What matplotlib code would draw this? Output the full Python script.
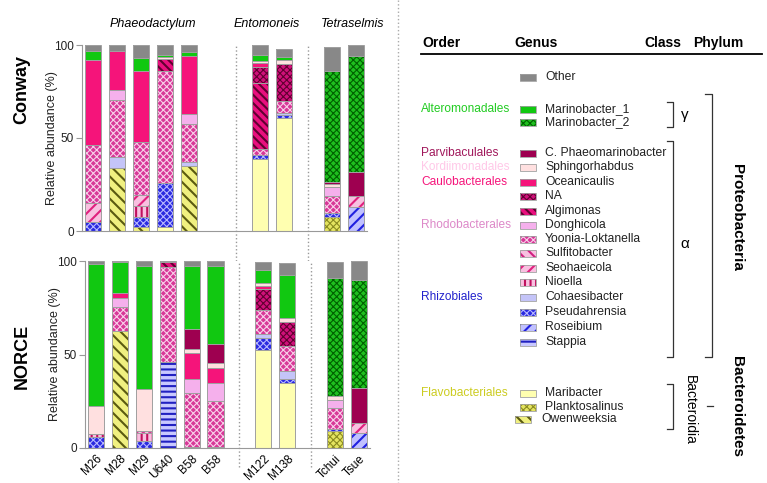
import numpy as np
import matplotlib
matplotlib.use('Agg')
import matplotlib.pyplot as plt
from matplotlib.patches import Rectangle

plt.rcParams['font.family'] = ['Liberation Sans', 'DejaVu Sans']
plt.rcParams['hatch.linewidth'] = 1.4

# samples (one empty slot in the Conway panel for the 2nd B58)
samples = ['M26', 'M28', 'M29', 'U640', 'B58', 'B58', 'M122', 'M138', 'Tchui', 'Tsue']
xpos = [0, 1, 2, 3, 4, 5, 7, 8, 10, 11]
groups = ['Phaeodactylum', 'Entomoneis', 'Tetraselmis']

# legend order, top to bottom (bars stack in reverse)
genera = ['Other', 'Marinobacter_1', 'Marinobacter_2', 'C. Phaeomarinobacter', 'Sphingorhabdus',
          'Oceanicaulis', 'NA', 'Algimonas', 'Donghicola', 'Yoonia-Loktanella', 'Sulfitobacter',
          'Seohaeicola', 'Nioella', 'Cohaesibacter', 'Pseudahrensia', 'Roseibium', 'Stappia',
          'Maribacter', 'Planktosalinus', 'Owenweeksia']

# Conway medium (%)
c_other = [3, 3, 7.2, 5.5, 4, 0, 5.4, 4.3, 12.9, 5.9]
c_marino1 = [5, 0, 6.6, 1, 2, 0, 2.8, 1.7, 0, 0]
c_marino2 = [0, 0, 0, 0, 0, 0, 0, 0, 60, 62.2]
c_phaeo = [0, 0, 0, 0, 0, 0, 0, 0, 0.9, 13.1]
c_sphingo = [0, 0, 0, 1.2, 0, 0, 1.1, 2.4, 1.5, 0]
c_oceani = [46, 21, 38.5, 0, 31.3, 0, 2.5, 0, 0, 0]
c_na = [0, 0, 0, 0, 0, 0, 8.6, 19.6, 0, 0]
c_algi = [0, 0, 0, 6.1, 0, 0, 35.5, 0, 0, 0]
c_dongh = [0, 5.5, 0, 0, 5.2, 0, 0, 0, 5, 0]
c_yoonia = [31, 30.5, 28.3, 60.2, 20.2, 0, 3.2, 6.4, 8.9, 0]
c_sulfito = [0, 0, 0, 0, 0, 0, 0, 0, 0, 0]
c_seoh = [10, 0, 6, 0, 0, 0, 0, 0, 0, 6.1]
c_nioella = [0, 0, 5.7, 0, 0, 0, 0, 0, 0, 0]
c_cohaes = [0, 6, 0, 0, 2.3, 0, 0, 1.4, 0, 0]
c_pseud = [5, 0, 5.4, 23.7, 0, 0, 2.2, 1.2, 2.2, 0]
c_roseib = [0, 0, 0, 0, 0, 0, 0, 0, 0, 12.7]
c_stappia = [0, 0, 0, 0, 0, 0, 0, 0, 0, 0]
c_marib = [0, 0, 0, 2.3, 0, 0, 38.5, 61, 0, 0]
c_plankt = [0, 0, 0, 0, 0, 0, 0, 0, 7.7, 0]
c_owen = [0, 34, 2.3, 0, 35, 0, 0, 0, 0, 0]

# NORCE medium (%)
n_other = [1.8, 0.7, 2.5, 0.7, 2.7, 2.7, 4.1, 6.3, 8.9, 10.2]
n_marino1 = [75.7, 16.6, 65.9, 0, 33.8, 41.7, 6.8, 22.8, 0, 0]
n_marino2 = [0, 0, 0, 0, 0, 0, 0, 0, 62.9, 57.5]
n_phaeo = [0, 0, 0, 0, 10.6, 10.3, 0, 0, 0, 18.8]
n_sphingo = [15, 0, 22.5, 0, 2.3, 2.7, 1.6, 2.1, 2.1, 0]
n_oceani = [0, 2.5, 0, 0, 13.7, 7.8, 2, 0, 0, 0]
n_na = [0, 0, 0, 0, 0, 0, 11, 12.9, 0, 0]
n_algi = [0, 0, 0, 2.3, 0, 0, 0, 0, 0, 0]
n_dongh = [0, 5, 0, 0, 7.7, 9.5, 0, 0, 4.1, 0]
n_yoonia = [0, 12.6, 1.3, 51.2, 28.7, 24.8, 13, 13.3, 11.6, 0]
n_sulfito = [0, 0, 0, 0, 0, 0, 0, 0, 0, 0]
n_seoh = [0, 0, 0, 0, 0, 0, 0, 0, 0, 5.3]
n_nioella = [1.8, 0, 4.1, 0, 0, 0, 0, 0, 0, 0]
n_cohaes = [0, 0, 0, 0, 0, 0, 2.2, 4.5, 0, 0]
n_pseud = [5.7, 0, 3.7, 0, 0.5, 0.5, 6.2, 2, 0.9, 0]
n_roseib = [0, 0, 0, 0, 0, 0, 0, 0, 0, 8.2]
n_stappia = [0, 0, 0, 45.8, 0, 0, 0, 0, 0, 0]
n_marib = [0, 0, 0, 0, 0, 0, 52.4, 34.9, 0, 0]
n_plankt = [0, 0, 0, 0, 0, 0, 0, 0, 9.1, 0]
n_owen = [0, 62.6, 0, 0, 0, 0, 0, 0, 0, 0]

conway = [c_other, c_marino1, c_marino2, c_phaeo, c_sphingo, c_oceani, c_na, c_algi, c_dongh,
          c_yoonia, c_sulfito, c_seoh, c_nioella, c_cohaes, c_pseud, c_roseib, c_stappia,
          c_marib, c_plankt, c_owen]
norce = [n_other, n_marino1, n_marino2, n_phaeo, n_sphingo, n_oceani, n_na, n_algi, n_dongh,
         n_yoonia, n_sulfito, n_seoh, n_nioella, n_cohaes, n_pseud, n_roseib, n_stappia,
         n_marib, n_plankt, n_owen]

# (face, hatch, hatch colour) per genus, same order as genera
styles = [
    ('#888888', None, '#888888'),
    ('#11c811', None, '#11c811'),
    ('#1fbf1f', 'xxxxx', '#006000'),
    ('#9e0050', None, '#9e0050'),
    ('#ffe0e0', None, '#ffe0e0'),
    ('#f5147a', None, '#f5147a'),
    ('#d0107a', 'xxxxx', '#600030'),
    ('#e8107e', '\\\\\\\\', '#600030'),
    ('#f5b0ec', None, '#f5b0ec'),
    ('#d83898', 'xxxxx', '#f8d0ea'),
    ('#f8c0e0', '\\\\\\', '#d02080'),
    ('#f8c0e0', '///', '#e0207e'),
    ('#f8c0e0', '|||', '#c0105e'),
    ('#c4c4f8', None, '#c4c4f8'),
    ('#2a2ae0', 'xxxxx', '#b8b8ff'),
    ('#c0c0ff', '///', '#2020e0'),
    ('#c8c8ff', '---', '#2020c0'),
    ('#ffffb0', None, '#ffffb0'),
    ('#e4e460', 'xxxxx', '#8a8a20'),
    ('#f0f080', '\\\\\\', '#5a5a10'),
]


def set_hlw(patch, hatch):
    # thinner lines for checker patterns, if this matplotlib supports it
    if hatch and hasattr(patch, 'set_hatch_linewidth'):
        patch.set_hatch_linewidth(0.8 if 'x' in hatch else 1.5)


orders = ['Alteromonadales', 'Parvibaculales', 'Kordiimonadales', 'Caulobacterales',
          'Rhodobacterales', 'Rhizobiales', 'Flavobacteriales']
order_colors = ['#22cc22', '#a0165a', '#ffc8e8', '#f5147a', '#dd88c8', '#2222cc', '#cccc20']
order_rows = [1, 3, 4, 5, 8, 13, 17]

fig = plt.figure(figsize=(7.67, 4.83), dpi=100)

# full-figure overlay in pixel units for the legend side
lax = fig.add_axes([0, 0, 1, 1])
lax.set_xlim(0, 767)
lax.set_ylim(483, 0)
lax.axis('off')
lax.patch.set_visible(False)

ax1 = fig.add_axes([82 / 767, 1 - 231 / 483, 285 / 767, 186 / 483])
ax2 = fig.add_axes([85 / 767, 1 - 448 / 483, 285 / 767, 187 / 483])

W = 0.68


def draw_panel(ax, values):
    bottom = np.zeros(len(xpos))
    for g in range(len(genera) - 1, -1, -1):
        v = np.array(values[g], dtype=float)
        face, hatch, hcol = styles[g]
        m = v > 0
        x = np.array(xpos)[m]
        bars = ax.bar(x, v[m], W, bottom=bottom[m], color=face, hatch=hatch, edgecolor=hcol,
                      linewidth=0)
        for p in bars:
            set_hlw(p, hatch)
        ax.bar(x, v[m], W, bottom=bottom[m], fill=False, edgecolor='#a0a0a0', linewidth=0.7)
        bottom += v
    ax.set_xlim(-0.46, 11.46)
    ax.set_ylim(0, 100)
    ax.set_yticks([0, 50, 100])
    ax.spines['top'].set_visible(False)
    ax.spines['right'].set_visible(False)
    ax.spines['left'].set_color('#999999')
    ax.spines['bottom'].set_color('#999999')
    ax.tick_params(axis='y', colors='#999999', labelcolor='#222222', labelsize=8.5, length=4,
                   pad=2)
    ax.tick_params(axis='x', length=0)
    ax.set_ylabel('Relative abundance (%)', fontsize=9, color='#222222')
    ax.yaxis.set_label_coords(-0.085, 0.5)


draw_panel(ax1, conway)
draw_panel(ax2, norce)
ax1.set_xticks([])
ax2.set_xticks(xpos)
ax2.set_xticklabels(samples, rotation=45, ha='right', rotation_mode='anchor', fontsize=8.5)

for ax, lo in ((ax1, -0.16), (ax2, -0.1)):
    for xs in (6, 9):
        ax.axvline(xs, ymin=lo, ymax=1.0, color='#999999', ls=':', lw=1, clip_on=False)

for name, xc in zip(groups, (2.5, 7.25, 10.85)):
    ax1.text(xc, 111.5, name, style='italic', fontsize=9, ha='center', va='center')

fig.text(22 / 767, 1 - 90 / 483, 'Conway', rotation=90, fontsize=13, fontweight='bold',
         ha='center', va='center')
fig.text(22 / 767, 1 - 356 / 483, 'NORCE', rotation=90, fontsize=13, fontweight='bold',
         ha='center', va='center')

# ---- legend side ----
lax.plot([398, 398], [0, 483], color='#aaaaaa', ls=':', lw=1)
for txt, xh in zip(['Order', 'Genus', 'Class', 'Phylum'], [422, 514, 644, 693]):
    lax.text(xh, 43, txt, fontsize=10, fontweight='bold', ha='left', va='center')
lax.plot([421, 762], [54, 54], color='black', lw=1.3)

legend_y = [77, 109, 122, 153, 167, 182, 196, 211, 225, 239, 253, 268, 282, 297, 312, 327, 342,
            393, 407, 419]
for i, g in enumerate(genera):
    face, hatch, hcol = styles[i]
    px, tx = (515, 541) if g == 'Owenweeksia' else (520, 545)
    y = legend_y[i]
    p = lax.add_patch(Rectangle((px, y - 3.5), 16, 7, facecolor=face, hatch=hatch, edgecolor=hcol,
                                linewidth=0))
    set_hlw(p, hatch)
    lax.add_patch(Rectangle((px, y - 3.5), 16, 7, fill=False, edgecolor='#a0a0a0', linewidth=0.6))
    lax.text(tx, y, g, fontsize=8.7, ha='left', va='center', color='#222222')

for name, col, r in zip(orders, order_colors, order_rows):
    lax.text(421, legend_y[r], name, fontsize=8.6, color=col, ha='left', va='center')


def bracket(x, y0, y1, arm=6):
    lax.plot([x - arm, x, x, x - arm], [y0, y0, y1, y1], color='#333333', lw=0.9)


bracket(673, 102, 127)
bracket(673, 141, 357)
bracket(673, 384, 429)
bracket(712, 94, 357, arm=7)
lax.plot([707, 713], [406, 406], color='#333333', lw=0.9)

lax.text(685, 115, '\u03b3', fontsize=11, ha='center', va='center')
lax.text(685, 244, '\u03b1', fontsize=11, ha='center', va='center')
lax.text(690, 410, 'Bacteroidia', fontsize=10, rotation=-90, ha='center', va='center')
lax.text(737, 217, 'Proteobacteria', fontsize=11, fontweight='bold', rotation=-90,
         ha='center', va='center')
lax.text(737, 407, 'Bacteroidetes', fontsize=11, fontweight='bold', rotation=-90,
         ha='center', va='center')

fig.savefig('out.png', dpi=100)
